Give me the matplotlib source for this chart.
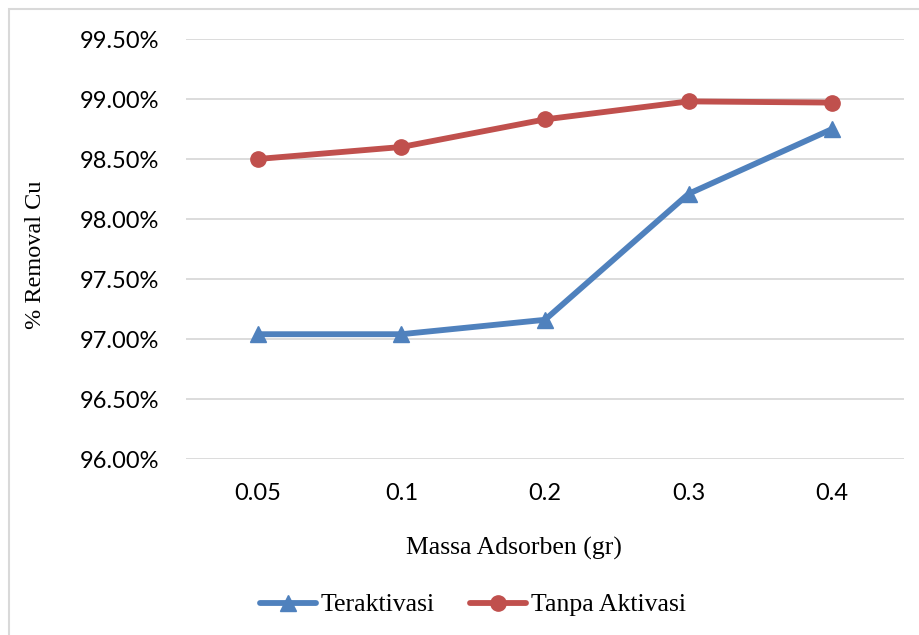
import matplotlib
matplotlib.use("Agg")
import matplotlib.pyplot as plt
from matplotlib.patches import Rectangle
from matplotlib.ticker import FuncFormatter, MultipleLocator

# massa adsorben (gr) dan % removal Cu
massa = ["0.05", "0.1", "0.2", "0.3", "0.4"]
teraktivasi = [97.04, 97.04, 97.16, 98.21, 98.75]
tanpa_aktivasi = [98.50, 98.60, 98.83, 98.98, 98.97]

biru = "#4F81BD"
merah = "#C0504D"
serif = "Liberation Serif"
angka = "Lato"

fig = plt.figure(figsize=(9.2, 6.35), dpi=100)
ax = fig.add_axes([186 / 920, 1 - 459 / 635, 718 / 920, 420 / 635])

x = list(range(len(massa)))
ax.plot(x, teraktivasi, color=biru, lw=4.2, marker="^", ms=11,
        label="Teraktivasi", solid_capstyle="round")
ax.plot(x, tanpa_aktivasi, color=merah, lw=4.2, marker="o", ms=11,
        label="Tanpa Aktivasi", solid_capstyle="round")

ax.set_xlim(-0.5, len(massa) - 0.5)
ax.set_ylim(96.0, 99.5)
ax.yaxis.set_major_locator(MultipleLocator(0.5))
ax.yaxis.set_major_formatter(FuncFormatter(lambda v, p: f"{v:.2f}%"))
ax.set_xticks(x)
ax.set_xticklabels(massa)

ax.grid(axis="y", color="#D9D9D9", lw=1.3)
ax.set_axisbelow(True)
for s in ax.spines.values():
    s.set_visible(False)
ax.tick_params(length=0, labelsize=17, colors="black")
ax.tick_params(axis="y", pad=19)
ax.tick_params(axis="x", pad=17)
for t in ax.get_xticklabels() + ax.get_yticklabels():
    t.set_fontfamily(angka)

fig.text(514 / 920, 1 - 555 / 635, "Massa Adsorben (gr)", ha="center",
         va="baseline", fontsize=18.5, family=serif)
fig.text(36 / 920, 1 - 255 / 635, "% Removal Cu", ha="center", va="center",
         rotation=90, fontsize=17.5, family=serif)

fig.legend(loc="center", bbox_to_anchor=(0.514, 1 - 605 / 635), ncol=2,
           frameon=False, prop={"family": serif, "size": 18.5},
           handlelength=2.18, handletextpad=0.2, columnspacing=1.36,
           borderpad=0)

# bingkai area grafik
fig.patches.append(Rectangle((9 / 920, -0.1), 1.2, 1 - 9 / 635 + 0.1,
                             transform=fig.transFigure, fill=False,
                             edgecolor="#D9D9D9", lw=1.5))

fig.savefig("out.png", dpi=100, facecolor="white")
